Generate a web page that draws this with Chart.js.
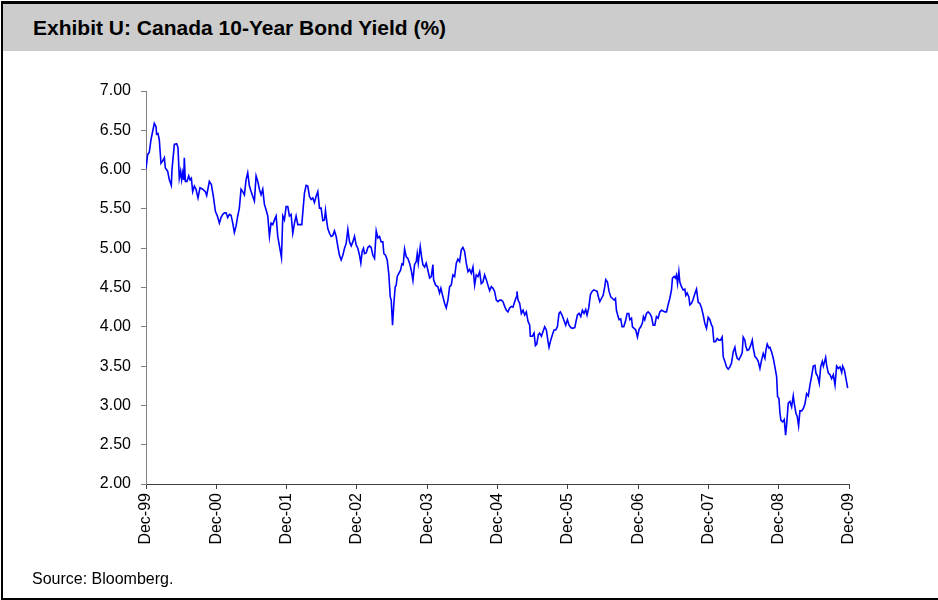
<!DOCTYPE html>
<html>
<head>
<meta charset="utf-8">
<script src="https://cdn.jsdelivr.net/npm/chart.js@4/dist/chart.umd.min.js"></script>
<style>
  body { margin: 0; background: #fff; font-family: "Liberation Sans", Arial, sans-serif; }
  #page { position: relative; width: 938px; height: 600px; overflow: hidden; }
  #frame { position: absolute; left: 1px; top: 1px; width: 937px; height: 594px;
           border-top: 3px solid #000; border-left: 2px solid #000; border-bottom: 2px solid #000; }
  #title { position: absolute; left: 3px; top: 4px; width: 935px; height: 47px; background: #cccccc; }
  #title span { position: absolute; left: 30px; top: 12px; font-weight: bold; font-size: 21px; color: #000; }
  #chartBox { position: absolute; left: 0; top: 51px; width: 938px; height: 520px; }
  #source { position: absolute; left: 32px; top: 570px; font-size: 16px; color: #000; }
</style>
</head>
<body>
<div id="page">
  <div id="frame"></div>
  <div id="title"><span>Exhibit U: Canada 10-Year Bond Yield (%)</span></div>
  <div id="chartBox"><canvas id="yieldChart" width="938" height="520"></canvas></div>
  <div id="source">Source: Bloomberg.</div>
</div>
<script>
// years after Dec-1999
const yearsSinceDec99 = [
  0.000, 0.023, 0.047, 0.071, 0.118, 0.142, 0.151, 0.170, 0.189, 0.213, 0.237, 0.261, 0.275, 0.308, 0.332, 0.360,
  0.370, 0.403, 0.436, 0.455, 0.474, 0.493, 0.507, 0.522, 0.536, 0.545, 0.560, 0.583, 0.607, 0.626, 0.645, 0.664,
  0.688, 0.711, 0.740, 0.768, 0.806, 0.844, 0.863, 0.901, 0.930, 0.958, 0.987, 1.015, 1.044, 1.067, 1.091, 1.115,
  1.139, 1.162, 1.186, 1.210, 1.234, 1.257, 1.281, 1.305, 1.328, 1.352, 1.376, 1.400, 1.423, 1.447, 1.471, 1.495,
  1.518, 1.542, 1.566, 1.590, 1.613, 1.637, 1.661, 1.684, 1.708, 1.732, 1.756, 1.779, 1.803, 1.827, 1.851, 1.874,
  1.898, 1.927, 1.946, 1.969, 1.993, 2.017, 2.040, 2.064, 2.088, 2.112, 2.135, 2.159, 2.183, 2.216, 2.254, 2.278,
  2.301, 2.325, 2.349, 2.373, 2.396, 2.420, 2.444, 2.468,
  2.491, 2.515, 2.539, 2.553, 2.572, 2.586, 2.610, 2.634, 2.657, 2.681, 2.705, 2.729, 2.752, 2.776, 2.800, 2.824,
  2.847, 2.871, 2.895, 2.919, 2.942, 2.966, 2.990, 3.013, 3.037, 3.056, 3.075, 3.094, 3.108, 3.132, 3.156, 3.180,
  3.203, 3.227, 3.251, 3.275, 3.298, 3.322, 3.346, 3.369, 3.384, 3.407, 3.431, 3.455, 3.474, 3.488, 3.507, 3.526,
  3.545, 3.559, 3.574, 3.597, 3.621, 3.640, 3.659, 3.678, 3.702, 3.725, 3.749, 3.773, 3.797, 3.820, 3.844, 3.858,
  3.873, 3.901, 3.920, 3.939, 3.963, 3.986, 4.010, 4.034, 4.058, 4.081, 4.091, 4.119, 4.152, 4.176, 4.195, 4.224,
  4.247, 4.271, 4.295, 4.319, 4.342, 4.366, 4.390, 4.414, 4.437, 4.461,
  4.485, 4.508, 4.532, 4.556, 4.580, 4.603, 4.627, 4.651, 4.675, 4.698, 4.722, 4.746, 4.769, 4.793, 4.817, 4.841,
  4.864, 4.888, 4.912, 4.936, 4.959, 4.983, 5.007, 5.031, 5.054, 5.078, 5.102, 5.126, 5.149, 5.173, 5.197, 5.220,
  5.244, 5.268, 5.277, 5.292, 5.315, 5.339, 5.363, 5.387, 5.410, 5.434, 5.458, 5.467, 5.496, 5.520, 5.539, 5.558,
  5.581, 5.600, 5.624, 5.648, 5.671, 5.695, 5.719, 5.733, 5.757, 5.781, 5.804, 5.828, 5.852, 5.875, 5.894, 5.918,
  5.942, 5.970, 5.994, 6.018, 6.042, 6.065, 6.099, 6.122, 6.137, 6.160, 6.184, 6.208, 6.231, 6.255, 6.274, 6.298,
  6.322, 6.345, 6.369, 6.393, 6.417, 6.436, 6.455,
  6.478, 6.502, 6.526, 6.540, 6.564, 6.587, 6.611, 6.635, 6.659, 6.678, 6.692, 6.715, 6.730, 6.753, 6.772, 6.796,
  6.820, 6.844, 6.867, 6.882, 6.906, 6.920, 6.943, 6.967, 6.991, 7.015, 7.038, 7.062, 7.076, 7.095, 7.119, 7.143,
  7.166, 7.190, 7.214, 7.238, 7.261, 7.285, 7.309, 7.333, 7.356, 7.380, 7.404, 7.427, 7.451, 7.475, 7.489, 7.513,
  7.532, 7.546, 7.561, 7.580, 7.594, 7.617, 7.641, 7.665, 7.679, 7.698, 7.722, 7.736,
  7.760, 7.783, 7.807, 7.831, 7.855, 7.878, 7.902, 7.926, 7.950, 7.973, 7.997, 8.021, 8.045, 8.059, 8.078, 8.101,
  8.125, 8.149, 8.173, 8.196, 8.211, 8.234, 8.258, 8.282, 8.306, 8.329, 8.353, 8.377, 8.391, 8.410, 8.434, 8.457,
  8.481, 8.495, 8.519, 8.533, 8.552, 8.576, 8.600, 8.624, 8.638, 8.662, 8.685, 8.709, 8.733, 8.757, 8.780, 8.804,
  8.818, 8.837, 8.861, 8.875, 8.899, 8.923, 8.946, 8.970, 8.984, 9.003, 9.018, 9.032, 9.056, 9.079, 9.098, 9.112,
  9.136, 9.160, 9.184, 9.207, 9.221, 9.245, 9.264, 9.283, 9.302, 9.326, 9.350, 9.374, 9.397, 9.421, 9.445, 9.468,
  9.492, 9.516, 9.530, 9.554, 9.577, 9.597, 9.620, 9.635, 9.668, 9.682, 9.706, 9.730, 9.753, 9.777, 9.801, 9.824,
  9.848, 9.872, 9.896, 9.910, 9.934, 9.957, 9.981
];

// Canada 10-year yield, %
const yieldPct = [
  6.01, 6.19, 6.22, 6.38, 6.59, 6.55, 6.45, 6.46, 6.38, 6.08, 6.11, 6.15, 6.02, 5.98, 5.87, 5.80,
  6.00, 6.32, 6.33, 6.28, 5.89, 5.98, 5.87, 5.96, 5.87, 6.15, 5.85, 5.85, 5.92, 5.87, 5.89, 5.72,
  5.79, 5.75, 5.64, 5.77, 5.75, 5.72, 5.67, 5.85, 5.81, 5.66, 5.47, 5.41, 5.32, 5.39, 5.43, 5.45,
  5.45, 5.39, 5.43, 5.42, 5.32, 5.20, 5.28, 5.41, 5.51, 5.75, 5.72, 5.68, 5.87, 5.96, 5.79, 5.72,
  5.66, 5.60, 5.92, 5.85, 5.75, 5.68, 5.75, 5.56, 5.49, 5.41, 5.15, 5.32, 5.30, 5.36, 5.41, 5.15,
  5.03, 4.88, 5.41, 5.36, 5.53, 5.53, 5.41, 5.43, 5.19, 5.32, 5.41, 5.30, 5.30, 5.30, 5.70, 5.80,
  5.79, 5.66, 5.62, 5.64, 5.58, 5.66, 5.72, 5.51,
  5.51, 5.35, 5.36, 5.48, 5.34, 5.25, 5.19, 5.15, 5.16, 5.22, 5.15, 5.02, 4.91, 4.85, 4.91, 5.00,
  5.06, 5.24, 5.08, 5.03, 5.08, 5.15, 5.04, 5.00, 4.91, 4.81, 4.96, 5.00, 4.93, 4.94, 5.01, 5.03,
  5.01, 4.91, 4.87, 5.22, 5.13, 5.15, 5.08, 5.08, 4.93, 4.91, 4.85, 4.66, 4.38, 4.34, 4.02, 4.30,
  4.51, 4.53, 4.64, 4.68, 4.72, 4.80, 4.79, 4.99, 4.89, 4.87, 4.81, 4.72, 4.59, 4.79, 4.83, 4.93,
  4.81, 5.02, 4.89, 4.79, 4.76, 4.81, 4.72, 4.62, 4.64, 4.79, 4.60, 4.53, 4.51, 4.43, 4.49, 4.38,
  4.30, 4.24, 4.34, 4.51, 4.53, 4.66, 4.64, 4.81, 4.86, 4.83,
  4.98, 5.01, 4.96, 4.81, 4.70, 4.73, 4.68, 4.76, 4.53, 4.66, 4.64, 4.70, 4.55, 4.57, 4.66, 4.60,
  4.53, 4.46, 4.51, 4.49, 4.45, 4.34, 4.32, 4.34, 4.34, 4.32, 4.26, 4.21, 4.19, 4.24, 4.26, 4.25,
  4.32, 4.38, 4.45, 4.34, 4.30, 4.17, 4.21, 4.15, 4.19, 4.07, 4.02, 3.88, 3.88, 3.92, 3.76, 3.78,
  3.90, 3.92, 3.88, 3.94, 4.00, 3.96, 3.81, 3.74, 3.83, 3.90, 3.96, 3.96, 4.00, 4.17, 4.19, 4.15,
  4.09, 4.02, 4.09, 4.02, 3.99, 3.98, 3.99, 4.09, 4.15, 4.17, 4.13, 4.21, 4.17, 4.22, 4.15, 4.24,
  4.41, 4.45, 4.47, 4.46, 4.45, 4.38, 4.32,
  4.36, 4.40, 4.51, 4.60, 4.57, 4.45, 4.38, 4.36, 4.34, 4.36, 4.21, 4.13, 4.09, 4.10, 4.00, 4.00,
  4.07, 4.17, 4.17, 4.09, 4.11, 4.00, 3.98, 3.96, 3.87, 3.97, 4.00, 4.05, 4.13, 4.09, 4.17, 4.19,
  4.17, 4.13, 4.02, 4.02, 4.13, 4.11, 4.19, 4.21, 4.20, 4.19, 4.19, 4.28, 4.36, 4.47, 4.62, 4.64,
  4.62, 4.66, 4.55, 4.70, 4.57, 4.51, 4.47, 4.48, 4.40, 4.43, 4.38, 4.28,
  4.30, 4.35, 4.42, 4.48, 4.31, 4.30, 4.24, 4.15, 4.04, 3.98, 4.12, 4.09, 4.02, 4.00, 3.81, 3.81,
  3.85, 3.83, 3.83, 3.87, 3.62, 3.56, 3.49, 3.46, 3.49, 3.54, 3.68, 3.74, 3.66, 3.60, 3.58, 3.62,
  3.67, 3.87, 3.83, 3.75, 3.70, 3.71, 3.76, 3.83, 3.73, 3.62, 3.60, 3.56, 3.47, 3.58, 3.66, 3.60,
  3.70, 3.78, 3.73, 3.74, 3.68, 3.60, 3.49, 3.37, 3.11, 3.09, 2.90, 2.81, 2.79, 2.82, 2.62, 2.75,
  3.03, 3.05, 2.98, 3.12, 3.03, 2.90, 2.86, 2.74, 2.93, 2.93, 2.96, 3.02, 3.15, 3.12, 3.26, 3.37,
  3.50, 3.51, 3.41, 3.37, 3.28, 3.49, 3.56, 3.50, 3.61, 3.51, 3.41, 3.39, 3.34, 3.39, 3.26, 3.50,
  3.47, 3.49, 3.42, 3.50, 3.45, 3.34, 3.22
];

const tickLabels = ['Dec-99', 'Dec-00', 'Dec-01', 'Dec-02', 'Dec-03', 'Dec-04',
                    'Dec-05', 'Dec-06', 'Dec-07', 'Dec-08', 'Dec-09'];

const yMin = 2, yMax = 7, yStep = 0.5;

document.addEventListener('DOMContentLoaded', function() {
    const points = yearsSinceDec99.map((t, i) => ({ x: t, y: yieldPct[i] }));
    renderChart('yieldChart', points);
});

function renderChart(canvasId, points) {
    const ctx = document.getElementById(canvasId).getContext('2d');
    const font = { family: '"Liberation Sans", Arial, sans-serif', size: 16 };
    new Chart(ctx, {
        type: 'line',
        data: {
            datasets: [{
                data: points,
                borderColor: '#0000ff',
                borderWidth: 1.6,
                pointRadius: 0,
                tension: 0,
                fill: false
            }]
        },
        options: {
            responsive: false,
            animation: false,
            events: [],
            layout: { padding: { top: 40, right: 89, bottom: 0, left: 0 } },
            plugins: { legend: { display: false }, tooltip: { enabled: false } },
            scales: {
                x: {
                    type: 'linear',
                    min: 0,
                    max: tickLabels.length - 1,
                    afterFit: scale => { scale.height = 87; },
                    afterBuildTicks: scale => {
                        scale.ticks = tickLabels.map((_, i) => ({ value: i }));
                    },
                    ticks: {
                        autoSkip: false,
                        maxRotation: 90,
                        minRotation: 90,
                        padding: 4,
                        color: '#000',
                        font: font,
                        callback: v => tickLabels[v]
                    },
                    grid: { drawOnChartArea: false, tickLength: 5, color: '#404040' },
                    border: { color: '#404040', width: 1 }
                },
                y: {
                    min: yMin,
                    max: yMax,
                    afterFit: scale => { scale.width = 146; },
                    ticks: {
                        stepSize: yStep,
                        padding: 10,
                        color: '#000',
                        font: font,
                        callback: v => v.toFixed(2)
                    },
                    grid: { drawOnChartArea: false, tickLength: 5, color: '#808080' },
                    border: { color: '#808080', width: 1 }
                }
            }
        }
    });
}
</script>
</body>
</html>
